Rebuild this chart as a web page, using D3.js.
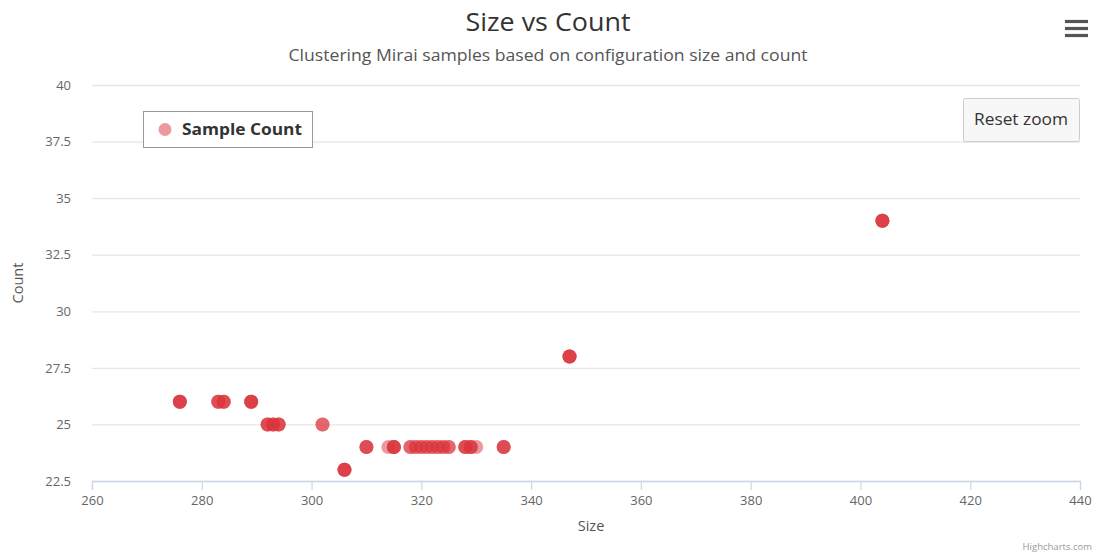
<!DOCTYPE html>
<html>
<head>
<meta charset="utf-8">
<script src="https://cdn.jsdelivr.net/npm/d3@7"></script>
<style>
  html, body { margin: 0; padding: 0; background: #fff; }
  svg { display: block; font-family: "Open Sans", "DejaVu Sans", sans-serif; }
</style>
</head>
<body>
<svg id="chart" width="1096" height="555"></svg>
<script>
// ---- data ----
const chartTitle = "Size vs Count";
const chartSubtitle = "Clustering Mirai samples based on configuration size and count";
const seriesName = "Sample Count";
const xTitle = "Size";
const yTitle = "Count";
const xTicks = [260, 280, 300, 320, 340, 360, 380, 400, 420, 440];
const yTicks = [22.5, 25, 27.5, 30, 32.5, 35, 37.5, 40];
// one entry per sample (repeated entries = several samples with same size/count)
const sampleSizes = [
  276, 276, 276, 276,
  283, 283, 283, 284, 284, 284,
  289, 289, 289, 289,
  292, 292, 292, 293, 293, 293, 294, 294, 294,
  302, 302,
  306, 306, 306, 306,
  310, 310, 310,
  314,
  315, 315, 315, 315,
  318, 318, 319, 319, 320, 320, 321, 321, 322, 322, 323, 323, 324, 324, 325, 325,
  328, 328, 328, 329, 329, 329, 330,
  335, 335, 335,
  347, 347, 347, 347,
  404, 404, 404, 404
];
const sampleCounts = [
  26, 26, 26, 26,
  26, 26, 26, 26, 26, 26,
  26, 26, 26, 26,
  25, 25, 25, 25, 25, 25, 25, 25, 25,
  25, 25,
  23, 23, 23, 23,
  24, 24, 24,
  24,
  24, 24, 24, 24,
  24, 24, 24, 24, 24, 24, 24, 24, 24, 24, 24, 24, 24, 24, 24, 24,
  24, 24, 24, 24, 24, 24, 24,
  24, 24, 24,
  28, 28, 28, 28,
  34, 34, 34, 34
];

// ---- layout ----
const svg = d3.select("#chart");
const W = 1096, H = 555;
const plot = { left: 92, right: 1080, top: 85, bottom: 481 };
const pointColor = "rgba(218,52,60,0.5)";

const x = d3.scaleLinear().domain([260, 440]).range([plot.left, plot.right]);
const y = d3.scaleLinear().domain([22.5, 40]).range([plot.bottom, plot.top]);

svg.append("rect").attr("width", W).attr("height", H).attr("fill", "#fff");

// title / subtitle
svg.append("text").attr("x", 548).attr("y", 31).attr("text-anchor", "middle")
  .attr("font-size", 26).attr("fill", "#333")
  .attr("textLength", 165).attr("lengthAdjust", "spacingAndGlyphs").text(chartTitle);
svg.append("text").attr("x", 548).attr("y", 61).attr("text-anchor", "middle")
  .attr("font-size", 16).attr("fill", "#555")
  .attr("textLength", 519).attr("lengthAdjust", "spacingAndGlyphs").text(chartSubtitle);

// y grid + labels
const yAxis = d3.axisLeft(y).tickValues(yTicks).tickSize(-(plot.right - plot.left)).tickFormat(d3.format("~g"));
const gy = svg.append("g").attr("transform", `translate(${plot.left},0)`).call(yAxis);
gy.select(".domain").remove();
gy.selectAll(".tick line").attr("stroke", "#e6e6e6").attr("stroke-width", 1.3);
gy.selectAll(".tick text").attr("fill", "#666").attr("font-size", 13).attr("x", -21)
  .attr("font-family", "\"Open Sans\", \"DejaVu Sans\", sans-serif");

// x axis
const xAxis = d3.axisBottom(x).tickValues(xTicks).tickSize(9).tickPadding(6);
const gx = svg.append("g").attr("transform", `translate(0,${plot.bottom})`).call(xAxis);
gx.select(".domain").attr("stroke", "#ccd6eb").attr("stroke-width", 1.3);
gx.selectAll(".tick line").attr("stroke", "#ccd6eb").attr("stroke-width", 1.2);
gx.selectAll(".tick text").attr("fill", "#666").attr("font-size", 13)
  .attr("font-family", "\"Open Sans\", \"DejaVu Sans\", sans-serif");

// axis titles
svg.append("text").attr("x", (plot.left + plot.right) / 2 + 5).attr("y", 531).attr("text-anchor", "middle")
  .attr("font-size", 14.5).attr("fill", "#555").text(xTitle);
svg.append("text").attr("transform", `translate(23,${(plot.top + plot.bottom) / 2}) rotate(-90)`)
  .attr("text-anchor", "middle").attr("font-size", 14.5).attr("fill", "#555").text(yTitle);

// points
const points = sampleSizes.map((s, i) => ({ size: s, count: sampleCounts[i] }));
svg.append("g").selectAll("circle").data(points).join("circle")
  .attr("cx", d => x(d.size)).attr("cy", d => y(d.count)).attr("r", 7)
  .attr("fill", pointColor);

// legend
const lg = svg.append("g").attr("transform", "translate(143,111)");
lg.append("rect").attr("x", 0.5).attr("y", 0.5).attr("width", 169).attr("height", 36)
  .attr("fill", "#fff").attr("stroke", "#999").attr("stroke-width", 1);
lg.append("circle").attr("cx", 22).attr("cy", 18.5).attr("r", 6.5).attr("fill", pointColor);
lg.append("text").attr("x", 39).attr("y", 24).attr("font-size", 16).attr("font-weight", "bold")
  .attr("fill", "#333").attr("textLength", 120).attr("lengthAdjust", "spacingAndGlyphs").text(seriesName);

// reset zoom button
const rb = svg.append("g").attr("transform", "translate(963,98)");
rb.append("rect").attr("x", 0.5).attr("y", 0.5).attr("width", 116).attr("height", 43).attr("rx", 2)
  .attr("fill", "#f7f7f7").attr("stroke", "#cccccc").attr("stroke-width", 1);
rb.append("text").attr("x", 58).attr("y", 27).attr("text-anchor", "middle").attr("font-size", 16)
  .attr("fill", "#333").attr("textLength", 94).attr("lengthAdjust", "spacingAndGlyphs").text("Reset zoom");

// context menu (hamburger)
const menuLines = [21.5, 28.5, 35.5];
svg.append("g").selectAll("line").data(menuLines).join("line")
  .attr("x1", 1065).attr("x2", 1088).attr("y1", d => d).attr("y2", d => d)
  .attr("stroke", "#555").attr("stroke-width", 3.2);

// credits
svg.append("text").attr("x", 1092).attr("y", 550).attr("text-anchor", "end")
  .attr("font-size", 9.5).attr("fill", "#999").text("Highcharts.com");
</script>
</body>
</html>
